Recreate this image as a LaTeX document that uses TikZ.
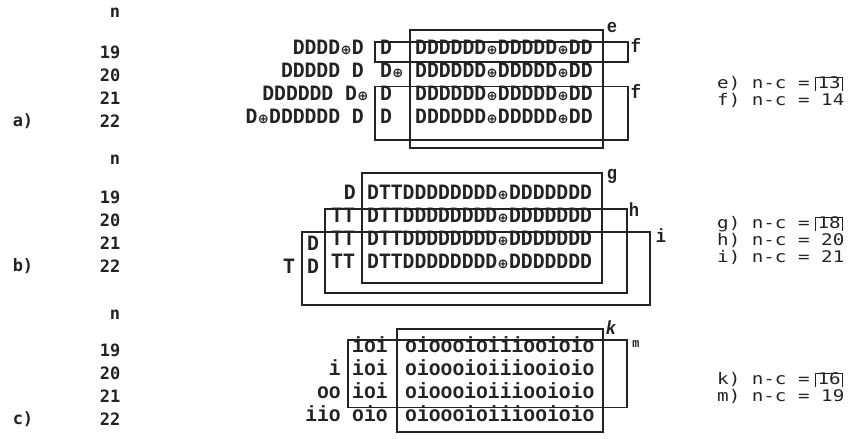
\documentclass[tikz,border=0pt]{standalone}
\usepackage{fontspec}
\usepackage{tikz}
\usetikzlibrary{positioning}
\newfontfamily\rowfont{Liberation Mono}[FakeStretch=0.9]
\newfontfamily\numfont{DejaVu Sans Mono}
\newfontfamily\labfont{DejaVu Sans Mono}[FakeStretch=1.2]
\newfontfamily\symfont{DejaVu Sans}
\definecolor{ink}{RGB}{35,35,35}
\newcommand\op{\makebox[0.54em]{\symfont\scalebox{0.6}{⊕}}}

\tikzset{
  row/.style={font=\rowfont\bfseries\fontsize{21.9}{24}\selectfont,inner sep=0pt,text=ink},
  num/.style={font=\numfont\bfseries\fontsize{17}{19}\selectfont,inner sep=0pt,text=ink},
  lab/.style={font=\labfont\fontsize{16}{18}\selectfont,inner sep=0pt,text=ink,text height=0.75em,text depth=0.05em},
  boxnum/.style={lab,inner xsep=1.5pt,inner ysep=2.5pt},
  tag/.style={font=\rowfont\bfseries\fontsize{19}{21}\selectfont,inner sep=0pt,text=ink},
  frame/.style={draw=ink,line width=1.1pt},
  openbox/.style={draw=ink,line width=0.9pt},
}

\begin{document}
\begin{tikzpicture}[x=1pt,y=-1pt]
    \useasboundingbox[fill=white] (0,0) rectangle (855,439);

    % a)
    \node[num] (na) at (115,13) {n};
    \foreach \y [count=\k from 19] in {52,75,98,121} \node[num] (a\k) at (110,\y) {\k};
    \node[num] (ta) at (23,121) {a)};
    \foreach \y [count=\k from 19] in {52,75,98,121} \node[row,anchor=mid west] (am\k) at (415,\y) {DDDDDD\op DDDDD\op DD};
    \node[row,anchor=mid east] (al19) at (364,52) {DDDD\op D};
    \node[row,anchor=mid east] (al20) at (364,75) {DDDDD D};
    \node[row,anchor=mid east] (al21) at (369,98) {DDDDDD D\op};
    \node[row,anchor=mid east] (al22) at (364,121) {D\op DDDDDD D};
    \node[row,anchor=mid west] (ac19) at (380,52) {D};
    \node[row,anchor=mid west] (ac20) at (380,75) {D\op};
    \node[row,anchor=mid west] (ac21) at (380,98) {D};
    \node[row,anchor=mid west] (ac22) at (380,121) {D};
    \draw[frame] (410,30) rectangle (603,148);
    \draw[frame] (375,42) rectangle (628,62);
    \draw[frame] (375,86.5) rectangle (628,140);
    \node[tag] (le) at (612,27) {e};
    \node[tag] (lf1) at (636,45) {f};
    \node[tag] (lf2) at (636,91) {f};
    \node[lab,anchor=base west] (re) at (717,88) {e) n-c =};
    \node[boxnum,base right=6pt of re] (re13) {13};
    \draw[openbox] (re13.south west) |- (re13.north east) -- (re13.south east);
    \node[lab,anchor=base west] (rf) at (717,105) {f) n-c = 14};

    % b)
    \node[num] (nb) at (115,160) {n};
    \foreach \y [count=\k from 19] in {197,220,243,266} \node[num] (b\k) at (110,\y) {\k};
    \node[num] (tb) at (23,266) {b)};
    \foreach \y [count=\k from 19] in {197,220,243,266} \node[row,anchor=mid west] (bm\k) at (367,\y) {DTTDDDDDDDD\op DDDDDDD};
    \node[row,anchor=mid east] (bd19) at (356,197) {D};
    \foreach \y [count=\k from 20] in {220,243,266} \node[row,anchor=mid west] (bt\k) at (331,\y) {TT};
    \node[row] (bd21) at (313,243) {D};
    \node[row] (bd22) at (313,266) {D};
    \node[row] (bt22) at (289,266) {T};
    \draw[frame] (362,173) rectangle (602,283);
    \draw[frame] (325,209) rectangle (627,293);
    \draw[frame] (302,232) rectangle (650,305);
    \node[tag] (lg) at (612,176) {g};
    \node[tag] (lh) at (634,210) {h};
    \node[tag] (li) at (661,236) {i};
    \node[lab,anchor=base west] (rg) at (717,228) {g) n-c =};
    \node[boxnum,base right=6pt of rg] (rg18) {18};
    \draw[openbox] (rg18.south west) |- (rg18.north east) -- (rg18.south east);
    \node[lab,anchor=base west] (rh) at (717,245) {h) n-c = 20};
    \node[lab,anchor=base west] (ri) at (717,262) {i) n-c = 21};

    % c)
    \node[num] (nc) at (115,315) {n};
    \foreach \y [count=\k from 19] in {350,373,396,419} \node[num] (c\k) at (110,\y) {\k};
    \node[num] (tc) at (23,419) {c)};
    \foreach \y [count=\k from 19] in {350,373,396,419} \node[row,anchor=mid west] (cm\k) at (405,\y) {oioooioiiiooioio};
    \foreach \y [count=\k from 19] in {350,373,396} \node[row,anchor=mid west] (cc\k) at (352,\y) {ioi};
    \node[row,anchor=mid west] (cc22) at (352,419) {oio};
    \node[row,anchor=mid east] (cl20) at (341,373) {i};
    \node[row,anchor=mid east] (cl21) at (341,396) {oo};
    \node[row,anchor=mid east] (cl22) at (341,419) {iio};
    \draw[frame] (397,329) rectangle (603,432);
    \draw[frame] (348,340) rectangle (627,407.5);
    \node[tag,font=\rowfont\bfseries\itshape\fontsize{19}{21}\selectfont] (lk) at (611,328) {k};
    \node[tag,font=\rowfont\bfseries\fontsize{13}{15}\selectfont] (lm) at (636,344) {m};
    \node[lab,anchor=base west] (rk) at (717,384) {k) n-c =};
    \node[boxnum,base right=6pt of rk] (rk16) {16};
    \draw[openbox] (rk16.south west) |- (rk16.north east) -- (rk16.south east);
    \node[lab,anchor=base west] (rm) at (717,401) {m) n-c = 19};
\end{tikzpicture}
\end{document}
